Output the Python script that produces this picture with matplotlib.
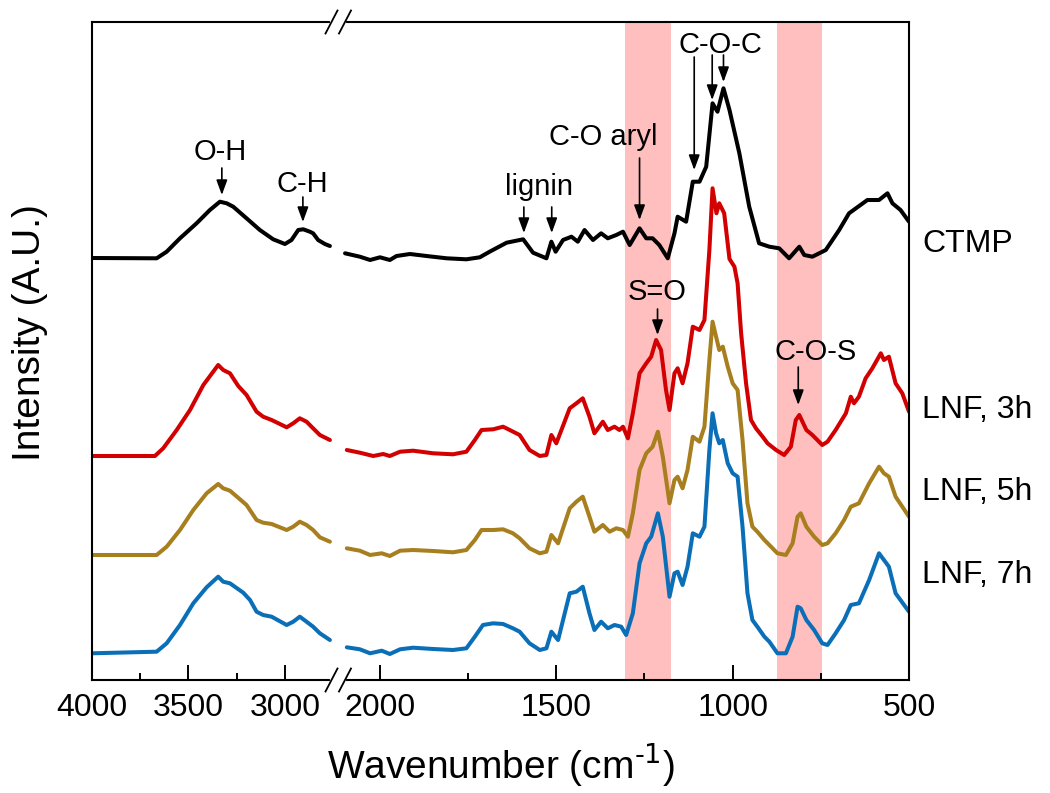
import numpy as np
import matplotlib
matplotlib.use('Agg')
import matplotlib.pyplot as plt
import matplotlib.transforms as mtransforms
from matplotlib.lines import Line2D

plt.rcParams['font.family'] = ['Liberation Sans', 'DejaVu Sans']
plt.rcParams['mathtext.default'] = 'regular'

# FTIR spectra (wavenumber in cm-1, intensity in arbitrary units, offsets included)
ctmp_wn = [4000, 3665, 3613, 3544, 3458, 3389, 3337, 3302, 3268, 3199, 3130, 3061, 3000, 2966,
           2931, 2905, 2871, 2854, 2828, 2793, 2767,
           2099, 2057, 2028, 2000, 1972, 1953, 1915, 1868, 1811, 1755, 1717, 1689, 1641, 1594,
           1566, 1528, 1514, 1502, 1481, 1457, 1439, 1420, 1396, 1373, 1354, 1330, 1311, 1292,
           1264, 1245, 1227, 1208, 1184, 1165, 1156, 1132, 1113, 1094, 1075, 1057, 1043, 1026,
           1009, 981, 953, 925, 896, 868, 840, 811, 797, 774, 736, 698, 670, 618, 585, 561, 547,
           524, 500]
ctmp_int = [422, 421.7, 428.3, 441.7, 456.7, 470, 478.3, 476.7, 473.3, 461.7, 450, 440.7, 436, 440,
            450, 450.7, 448.3, 446.7, 440, 436, 434,
            426.7, 423.3, 420, 422.7, 420, 424, 426, 424, 421.7, 420.7, 422.7, 428.3, 437.3, 440.7,
            427.3, 421.7, 438.3, 428.3, 440, 443.3, 438.3, 450, 440, 446.7, 441.7, 445, 448.3, 435,
            451.7, 441.7, 441.7, 435, 421.7, 446.7, 463.3, 458.3, 498.3, 498.3, 513.3, 576.7, 568.3,
            591.7, 570, 526.7, 473.3, 436.7, 433.3, 431.7, 421.7, 433.3, 425, 423.3, 430, 450, 466.7,
            480, 480, 486.7, 476.7, 470, 458.3]

lnf3_wn = [4000, 3674, 3631, 3561, 3492, 3423, 3346, 3320, 3285, 3242, 3199, 3147, 3113, 3069,
           2991, 2957, 2923, 2888, 2854, 2819, 2767,
           2094, 2057, 2019, 1991, 1972, 1943, 1906, 1849, 1793, 1755, 1731, 1712, 1679, 1651,
           1632, 1604, 1576, 1547, 1528, 1514, 1500, 1462, 1443, 1425, 1406, 1392, 1368, 1354,
           1335, 1321, 1311, 1297, 1283, 1264, 1245, 1231, 1217, 1203, 1189, 1179, 1165, 1156,
           1142, 1128, 1113, 1094, 1080, 1066, 1057, 1046, 1038, 1024, 1009, 995, 986, 976, 962,
           948, 934, 915, 901, 877, 854, 835, 821, 811, 791, 774, 746, 731, 708, 679, 665, 656,
           642, 623, 604, 580, 571, 557, 538, 519, 500]
lnf3_int = [224, 224, 231.7, 250, 270, 295, 315, 310, 306.7, 294, 285, 268.3, 263.3, 260,
            252.7, 256.7, 261.7, 258.3, 251.7, 245, 240,
            230, 227.3, 224, 226, 224, 228.3, 229.3, 226.7, 225.7, 228.3, 240, 250, 250.7, 253.3,
            250, 245, 230, 224, 225, 245, 236.7, 271.7, 276.7, 281.7, 263.3, 246.7, 258.3, 250,
            253.3, 250, 253.3, 241.7, 266.7, 306.7, 316.7, 323.3, 340, 330, 290, 270, 306.7, 311.7,
            296.7, 316.7, 353.3, 350, 360, 430, 491.7, 466.7, 476.7, 466.7, 421, 413.3, 396.7,
            346.7, 296.7, 260, 251.7, 243.3, 236.7, 230, 225, 233.3, 260, 265, 250, 245, 235, 238.3,
            250, 266.7, 283.3, 276.7, 283.3, 301.7, 311.7, 326.7, 320, 323.3, 296.7, 286.7, 268.3]

lnf5_wn = [4000, 3665, 3613, 3544, 3475, 3406, 3346, 3320, 3285, 3233, 3199, 3147, 3113, 3069,
           2991, 2957, 2923, 2888, 2854, 2819, 2767,
           2094, 2057, 2028, 1995, 1972, 1943, 1906, 1849, 1793, 1755, 1731, 1712, 1679, 1651,
           1623, 1604, 1576, 1547, 1528, 1514, 1495, 1462, 1443, 1425, 1406, 1392, 1368, 1349,
           1330, 1311, 1297, 1283, 1264, 1245, 1227, 1212, 1198, 1179, 1165, 1156, 1142, 1128,
           1113, 1094, 1080, 1066, 1057, 1047, 1038, 1028, 1014, 1000, 986, 972, 958, 944, 930,
           910, 896, 873, 849, 830, 816, 807, 791, 769, 746, 731, 708, 684, 665, 642, 613, 585,
           571, 557, 538, 500]
lnf5_int = [125, 125, 133.3, 150, 170, 186.7, 196, 191.7, 189.3, 180.7, 175, 160, 157.3, 156,
            150, 153.3, 158.3, 155, 150, 142.7, 138.3,
            131.7, 129.3, 125, 126.7, 124, 129.3, 130, 129, 127.7, 130, 140, 150, 150, 150.7,
            146.7, 141.7, 131.7, 126.7, 128.3, 145, 136.7, 171.7, 178.3, 183.3, 163.3, 148.3, 155,
            148.3, 151.7, 150, 143.3, 166.7, 210, 226.7, 233.3, 248.3, 223.3, 176.7, 200, 203.3,
            191.7, 210, 243.3, 238.3, 253.3, 320, 358.3, 343.3, 330, 333.3, 313.3, 296.7, 290, 240,
            176.7, 153.3, 148.3, 140, 135, 126.7, 125, 136.7, 163.3, 166.7, 153.3, 143.3, 135, 136.7,
            146.7, 160, 173.3, 176.7, 196.7, 213.3, 206.7, 203.3, 183.3, 163.3]

lnf7_wn = [4000, 3665, 3613, 3544, 3475, 3406, 3346, 3320, 3285, 3216, 3181, 3147, 3113, 3069,
           2991, 2957, 2923, 2888, 2854, 2819, 2767,
           2094, 2057, 2028, 1995, 1972, 1943, 1906, 1849, 1793, 1755, 1731, 1708, 1679, 1651,
           1623, 1604, 1576, 1547, 1528, 1514, 1495, 1462, 1443, 1425, 1406, 1392, 1373, 1354,
           1335, 1316, 1302, 1283, 1264, 1245, 1231, 1212, 1198, 1179, 1165, 1156, 1142, 1128,
           1113, 1094, 1080, 1066, 1057, 1047, 1038, 1028, 1014, 1000, 986, 972, 958, 944, 930,
           910, 896, 873, 849, 830, 816, 807, 791, 769, 746, 731, 708, 684, 665, 642, 613, 585,
           571, 557, 538, 500]
lnf7_int = [26.7, 28.3, 36.7, 55, 76.7, 92.7, 103.3, 98.3, 96.7, 87.3, 80, 68.3, 65, 63.3,
            55, 58.3, 63.3, 58.3, 53.3, 46.7, 40,
            32.7, 30.7, 26.7, 29.3, 26, 30.7, 32.3, 31, 30, 31.7, 43.3, 55, 56.7, 56,
            51.7, 48.3, 36.7, 30, 31.7, 48.3, 40, 86.7, 88.3, 93.3, 66.7, 50, 58.3, 51.7,
            55, 53.3, 45, 66.7, 116.7, 136.7, 143.3, 166.7, 143.3, 83.3, 106.7, 108.3,
            95, 113.3, 146.7, 143.3, 153.3, 230, 266.7, 246.7, 236.7, 240, 216.7, 206.7, 203.3,
            153.3, 86.7, 60, 53.3, 43.3, 38.3, 26.7, 26.7, 43.3, 73.3, 71.7, 60, 50, 36.7, 35,
            46.7, 60, 75, 76.7, 100, 126.7, 120, 113.3, 86.7, 68.3]

names = ['CTMP', 'LNF, 3h', 'LNF, 5h', 'LNF, 7h']
colors = ['#000000', '#d20000', '#a87f1f', '#0b6fb8']
label_y = [428, 262, 180, 97]
bands = [(1304, 1176), (873, 746)]

series = [(ctmp_wn, ctmp_int), (lnf3_wn, lnf3_int), (lnf5_wn, lnf5_int), (lnf7_wn, lnf7_int)]

W, H = 1050, 793
fig = plt.figure(figsize=(W / 100, H / 100), dpi=100)
fx = lambda px: px / W
fy = lambda py: 1 - py / H

y0, y1 = fy(680), fy(22)
ax1 = fig.add_axes([fx(92), y0, fx(338) - fx(92), y1 - y0])
ax2 = fig.add_axes([fx(338), y0, fx(909) - fx(338), y1 - y0])

for (wn, inten), c in zip(series, colors):
    wn = np.array(wn)
    inten = np.array(inten)
    m = wn > 2400
    ax1.plot(wn[m], inten[m], color=c, lw=2.9, solid_joinstyle='round', solid_capstyle='round')
    ax2.plot(wn[~m], inten[~m], color=c, lw=2.9, solid_joinstyle='round', solid_capstyle='round')

for lo, hi in bands:
    ax2.axvspan(lo, hi, color='#ffbfbf', lw=0, zorder=0)

ax1.set_xlim(4000, 2725)
ax2.set_xlim(2119, 500)
for ax in (ax1, ax2):
    ax.set_ylim(0, 658)
    ax.set_yticks([])
    for s in ax.spines.values():
        s.set_linewidth(1.5)
    ax.tick_params(axis='x', which='major', direction='in', length=11, width=1.4,
                   labelsize=23, pad=9, top=False)
    ax.tick_params(axis='x', which='minor', direction='in', length=5, width=1.4, top=False)
ax1.spines['right'].set_visible(False)
ax2.spines['left'].set_visible(False)
ax1.set_xticks([4000, 3500, 3000])
ax1.set_xticks([3750, 3250], minor=True)
ax2.set_xticks([2000, 1500, 1000, 500])
ax2.set_xticks([1750, 1250, 750], minor=True)

# axis break marks
for yb in (22, 680):
    fig.add_artist(Line2D([fx(332), fx(344)], [fy(yb), fy(yb)], color='white', lw=3, zorder=5))
    for cx in (331.5, 345):
        fig.add_artist(Line2D([fx(cx - 6), fx(cx + 6)], [fy(yb + 11.5), fy(yb - 11.5)],
                              color='k', lw=1.3, zorder=6))

# peak annotations
arw = dict(arrowstyle='-|>,head_length=0.6,head_width=0.22', color='k', lw=1.2,
           mutation_scale=15, shrinkA=0, shrinkB=0)
ax1.annotate('', xy=(3327, 485), xytext=(3327, 512), arrowprops=arw)
ax1.text(3337, 520, 'O-H', fontsize=21, ha='center', va='baseline')
ax1.annotate('', xy=(2907, 458), xytext=(2907, 483), arrowprops=arw)
ax1.text(2912, 488, 'C-H', fontsize=21, ha='center', va='baseline')

ax2.text(1550, 485, 'lignin', fontsize=21, ha='center', va='baseline')
for x in (1592, 1513):
    ax2.annotate('', xy=(x, 447), xytext=(x, 473), arrowprops=arw)
ax2.text(1366, 535, 'C-O aryl', fontsize=21, ha='center', va='baseline')
ax2.annotate('', xy=(1264, 460), xytext=(1264, 522), arrowprops=arw)
ax2.text(1035, 627, 'C-O-C', fontsize=21, ha='center', va='baseline')
ax2.annotate('', xy=(1109, 510), xytext=(1109, 623), arrowprops=arw)
ax2.annotate('', xy=(1058, 580), xytext=(1058, 625), arrowprops=arw)
ax2.annotate('', xy=(1026, 598), xytext=(1026, 625), arrowprops=arw)
ax2.text(1213, 380, 'S=O', fontsize=21, ha='center', va='baseline')
ax2.annotate('', xy=(1213, 345), xytext=(1213, 371), arrowprops=arw)
ax2.text(766, 320, 'C-O-S', fontsize=21, ha='center', va='baseline')
ax2.annotate('', xy=(814, 275), xytext=(814, 313), arrowprops=arw)

# series labels on the right
trans = mtransforms.blended_transform_factory(ax2.transAxes, ax2.transData)
for name, yl in zip(names, label_y):
    ax2.text(1.0228, yl, name, transform=trans, fontsize=23, ha='left', va='baseline',
             clip_on=False)

fig.text(fx(501), fy(765), r'Wavenumber (cm$^{\text{-1}}$)', fontsize=28, ha='center',
         va='center')
fig.text(fx(30), fy(333), 'Intensity (A.U.)', fontsize=28, ha='center', va='center',
         rotation=90)

fig.savefig('out.png', dpi=100)
